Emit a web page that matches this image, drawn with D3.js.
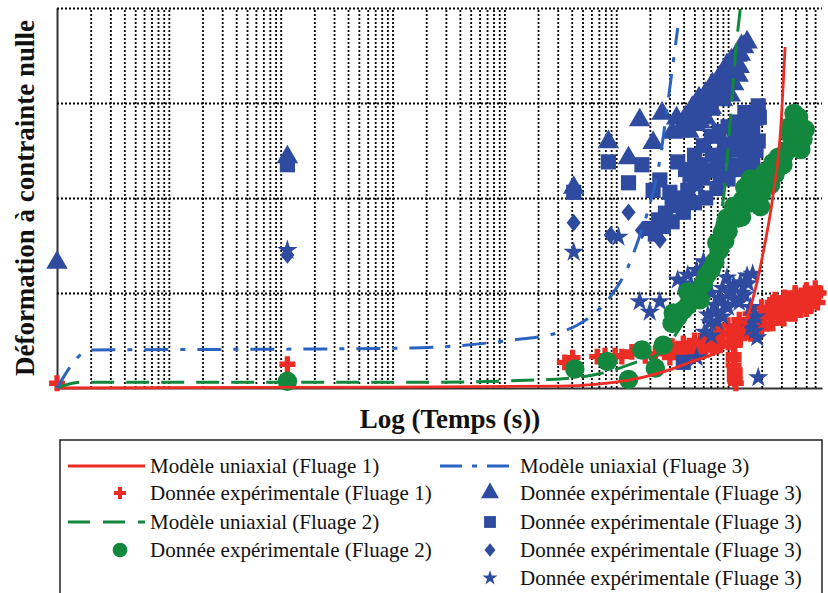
<!DOCTYPE html>
<html lang="fr">
<head>
<meta charset="UTF-8">
<title>Déformation à contrainte nulle</title>
<script src="https://d3js.org/d3.v7.min.js"></script>
<style>
  body { margin: 0; background: #fff; }
  text { font-family: "Liberation Serif", "Times New Roman", serif; fill: #111; }
</style>
</head>
<body>
<script>
// x = log10(temps en s), y = deformation (4 rows of grid)
const modele1 = [[0,0],[3.0,0.01],[4.5,0.02],[5.1,0.08],[5.66,0.27],[5.99,0.45],[6.17,0.74],[6.26,1.12],[6.31,1.40],[6.40,2.01],[6.47,2.72],[6.51,3.59]];
const modele2 = [[0,0],[0.21,0.06],[3.16,0.06],[4.41,0.09],[4.92,0.17],[5.15,0.26],[5.39,0.37],[5.6,0.69],[5.75,1.03],[5.84,1.38],[5.91,1.77],[5.96,2.01],[6.02,2.82],[6.07,3.56],[6.11,4.0]];
const modele3 = [[0,0],[0.30,0.40],[2.17,0.41],[3.16,0.42],[4.11,0.51],[4.41,0.56],[4.65,0.66],[4.84,0.82],[4.96,0.98],[5.10,1.26],[5.21,1.6],[5.28,1.85],[5.39,2.4],[5.47,3.08],[5.55,3.79]];

const fluage1 = [[0,0.05],[2.06,0.25],[4.54,0.27],[4.61,0.32],[4.83,0.33],[4.90,0.34],[4.99,0.34],[5.05,0.33],[5.14,0.38],[5.26,0.34],[5.35,0.36],[5.44,0.38],[5.53,0.40],[5.62,0.42],[5.71,0.44],[5.77,0.48],[5.84,0.51],[5.89,0.53],[5.95,0.56],[6.00,0.58],[6.06,0.61],[6.11,0.63],[6.15,0.65],[6.20,0.68],[6.24,0.72],[6.29,0.74],[6.33,0.76],[6.38,0.79],[6.42,0.81],[6.47,0.83],[6.51,0.85],[6.56,0.87],[6.60,0.89],[6.65,0.92],[6.69,0.94],[6.74,0.96],[6.78,0.97],[6.81,1.0],[6.29,0.63],[6.38,0.68],[6.47,0.74],[6.56,0.78],[6.65,0.82],[6.74,0.86],[6.42,0.93],[6.51,0.95],[6.60,0.98],[6.69,1.0],[6.20,0.58],[6.11,0.53],[6.02,0.48],[5.93,0.45],[5.86,0.42],[5.75,0.38],[5.66,0.35],[5.57,0.33],[5.48,0.32],[6.06,0.45],[6.05,0.35],[6.05,0.24],[6.06,0.14],[6.07,0.05],
  [5.4,0.42],[5.5,0.44],[5.6,0.47],[5.7,0.5],[5.8,0.55],[5.9,0.6],[6.0,0.66],[6.1,0.72],[6.2,0.78],[6.3,0.85],[6.4,0.9],[6.5,0.95],[6.6,1.0],[6.7,1.03],[6.78,1.05],
  [5.6,0.33],[5.7,0.36],[5.8,0.4],[5.9,0.44],[6.0,0.48],[6.1,0.52],[6.2,0.57],[6.3,0.62],[6.4,0.68],[6.5,0.73],[6.6,0.78],[6.7,0.83],[6.8,0.9],[6.05,0.3],[6.06,0.19],[6.06,0.09]];

const fluage2 = [[2.06,0.07],[4.63,0.20],[4.92,0.28],[5.11,0.09],[5.23,0.40],[5.35,0.21],[5.42,0.45],[5.51,0.79],[5.64,0.87],[5.75,0.93],[5.64,1.01],[5.81,1.19],[5.88,1.33],[5.90,1.53],[5.95,1.64],[5.99,1.79],[6.05,1.91],[6.13,1.98],[6.18,2.03],[6.29,1.91],[6.15,2.11],[6.26,2.19],[6.33,2.27],[6.40,2.37],[6.45,2.43],[6.54,2.51],[6.62,2.58],[6.65,2.68],[6.60,2.79],[6.59,2.89],[6.69,2.72],[6.49,2.35],[6.38,2.14],[6.26,2.02],[6.09,1.79],[6.56,2.66],[6.65,2.51],
  [5.55,0.75],[5.6,0.82],[5.7,0.95],[5.78,1.1],[5.85,1.25],[5.92,1.45],[6.0,1.65],[6.08,1.85],[6.2,1.95],[6.3,2.05],[6.35,2.2],[6.42,2.25],[6.5,2.45],[6.58,2.55],[6.62,2.7],[6.67,2.62],[6.55,2.75],[6.63,2.85],[6.2,2.2],[6.12,1.8],[5.97,1.55],[5.5,0.68]];

const fluage3Tri = [[0,1.32],[2.06,2.43],[4.62,2.11],[4.93,2.59],[5.11,2.42],[5.21,2.82],[5.33,2.58],[5.41,2.89],[5.50,2.69],[5.54,2.84],[5.61,2.78],[5.66,2.89],[5.72,2.95],[5.78,3.0],[5.84,3.06],[5.89,3.12],[5.93,3.16],[5.97,3.2],[6.00,3.26],[6.04,3.35],[5.99,3.4],[6.06,3.45],[6.11,3.51],[6.14,3.59],[6.17,3.64],[5.90,3.19],[5.80,2.84],[5.71,2.77],[5.84,2.93],[5.95,3.03],[6.02,3.08],[6.09,3.29],
  [5.56,2.7],[5.62,2.85],[5.68,2.95],[5.74,3.05],[5.8,3.1],[5.86,3.2],[5.92,3.27],[5.98,3.33],[6.03,3.45],[6.08,3.5],[6.12,3.6],[5.65,2.7],[5.75,2.8],[5.85,2.95],[5.95,3.1],[6.05,3.2],[6.1,3.38]];
const fluage3Sq = [[2.06,2.35],[4.62,2.06],[4.93,2.38],[5.11,2.16],[5.23,2.35],[5.33,2.08],[5.39,2.19],[5.48,2.06],[5.55,2.38],[5.30,1.68],[5.38,1.77],[5.44,1.84],[5.50,1.92],[5.57,2.0],[5.64,2.08],[5.71,2.15],[5.77,2.21],[5.84,2.29],[5.91,2.37],[5.97,2.44],[6.05,2.51],[6.11,2.58],[6.18,2.64],[6.22,2.74],[6.25,2.84],[6.27,2.97],[5.75,2.35],[5.86,2.45],[5.97,2.56],[6.06,2.66],[6.15,2.77],[5.66,2.24],[5.93,2.24],[6.06,2.35],[5.60,0.27],
  [5.62,2.3],[5.7,2.45],[5.78,2.55],[5.85,2.65],[5.92,2.7],[6.0,2.75],[6.08,2.8],[6.15,2.9],[6.2,2.6],[6.25,2.5],[6.22,2.35],[6.15,2.45],[6.1,2.3],[6.0,2.2],[5.9,2.1],[5.8,2.0],[5.7,1.95],[5.6,1.85],[5.5,1.75],[5.42,1.7],[5.35,1.62],[6.25,2.15],[6.22,2.3],[6.27,2.6],[6.28,2.85]];
const fluage3Dia = [[2.06,1.40],[4.62,1.74],[4.95,1.61],[5.11,1.85],[5.23,1.66],[5.39,1.56]];
const fluage3Star = [[2.06,1.45],[4.62,1.43],[5.02,1.59],[5.21,0.91],[5.30,0.80],[5.39,0.91],[5.55,1.14],[5.64,1.19],[5.72,1.24],[5.78,1.33],[5.82,0.77],[5.88,0.87],[5.93,0.95],[6.02,1.01],[6.11,1.11],[6.17,1.18],[5.99,1.16],[5.79,0.59],[5.84,0.69],[5.89,0.80],[6.22,0.69],[6.26,0.53],[6.20,0.63],[6.27,0.11],[5.72,0.32],[6.06,0.93],[6.15,0.98],[5.97,0.87],
  [5.6,1.1],[5.68,1.05],[5.75,1.2],[5.85,1.0],[5.95,1.05],[6.05,1.08],[6.12,1.0],[6.18,1.1],[6.22,1.2],[5.9,0.7],[5.95,0.75],[6.0,0.85],[6.1,0.9],[6.2,0.85],[6.25,0.75],[5.85,0.55],[6.24,0.6]];

const legendLabels = ["Modèle uniaxial (Fluage 1)", "Donnée expérimentale (Fluage 1)", "Modèle uniaxial (Fluage 2)", "Donnée expérimentale (Fluage 2)",
  "Modèle uniaxial (Fluage 3)", "Donnée expérimentale (Fluage 3)", "Donnée expérimentale (Fluage 3)", "Donnée expérimentale (Fluage 3)", "Donnée expérimentale (Fluage 3)"];

const RED = "#ec2d26", GREEN = "#13873d", BLUE = "#2f4b9f", BLUELINE = "#2a63c2";

const svg = d3.select("body").append("svg").attr("width", 828).attr("height", 593);

const x = d3.scaleLinear().domain([0, 6.84]).range([57, 822]);
const y = d3.scaleLinear().domain([0, 4]).range([388, 8]);

// log grid
const gridX = [];
for (let n = 0; n < 7; n++) {
  for (let k = 1; k <= 9; k++) {
    const v = n + Math.log10(k);
    if (v > 0 && v <= 6.84) gridX.push(v);
  }
}
svg.append("g")
  .attr("transform", "translate(0,388)")
  .call(d3.axisBottom(x).tickValues(gridX).tickSize(-380).tickFormat("").tickSizeOuter(0))
  .call(g => g.select(".domain").attr("stroke", "#333").attr("stroke-width", 2))
  .selectAll(".tick line")
  .attr("stroke", "#000").attr("stroke-width", 1.8).attr("stroke-dasharray", "2,2");

svg.append("g")
  .attr("transform", "translate(57,0)")
  .call(d3.axisLeft(y).tickValues([1, 2, 3, 4]).tickSize(-765).tickFormat("").tickSizeOuter(0))
  .call(g => g.select(".domain").attr("stroke", "#333").attr("stroke-width", 2))
  .selectAll(".tick line")
  .attr("stroke", "#000").attr("stroke-width", 1.8).attr("stroke-dasharray", "2,2");

// wide diamond like the original marker
const diamondWide = {
  draw(c, s) {
    const r = Math.sqrt(s) / 2;
    c.moveTo(0, -r * 1.25); c.lineTo(r, 0); c.lineTo(0, r * 1.25); c.lineTo(-r, 0); c.closePath();
  }
};

function points(data, type, size, color) {
  svg.append("g").selectAll("path")
    .data(data)
    .enter().append("path")
    .attr("transform", d => `translate(${x(d[0])},${y(d[1])})`)
    .attr("d", d3.symbol().type(type).size(size))
    .attr("fill", color);
}

points(fluage1, d3.symbolCross, 140, RED);
points(fluage3Sq, d3.symbolSquare, 230, BLUE);
points(fluage3Tri, d3.symbolTriangle, 200, BLUE);
points(fluage3Dia, diamondWide, 200, BLUE);
points(fluage3Star, d3.symbolStar, 130, BLUE);
points(fluage2, d3.symbolCircle, 300, GREEN);

const line = d3.line().x(d => x(d[0])).y(d => y(d[1])).curve(d3.curveMonotoneX);

svg.append("path").datum(modele1).attr("d", line)
  .attr("fill", "none").attr("stroke", RED).attr("stroke-width", 2.8);
svg.append("path").datum(modele2).attr("d", line)
  .attr("fill", "none").attr("stroke", GREEN).attr("stroke-width", 3).attr("stroke-dasharray", "23,12");
svg.append("path").datum(modele3).attr("d", line)
  .attr("fill", "none").attr("stroke", BLUELINE).attr("stroke-width", 3).attr("stroke-dasharray", "24,12,5,12");

// axis titles
svg.append("text")
  .attr("x", 450).attr("y", 428)
  .attr("text-anchor", "middle")
  .attr("font-size", 27).attr("font-weight", "bold")
  .text("Log (Temps (s))");

svg.append("text")
  .attr("transform", "translate(34,198) rotate(-90)")
  .attr("text-anchor", "middle")
  .attr("font-size", 27).attr("font-weight", "bold")
  .text("Déformation à contrainte nulle");

// legend
const lg = svg.append("g");
lg.append("rect").attr("x", 60).attr("y", 440).attr("width", 762).attr("height", 170)
  .attr("fill", "none").attr("stroke", "#222").attr("stroke-width", 1.5);

const rowsL = [466, 493, 522, 550];
const rowsR = [466, 493, 522, 550, 578];

lg.append("line").attr("x1", 68).attr("x2", 145).attr("y1", rowsL[0]).attr("y2", rowsL[0])
  .attr("stroke", RED).attr("stroke-width", 2.8);
lg.append("path").attr("transform", `translate(120,${rowsL[1]})`)
  .attr("d", d3.symbol().type(d3.symbolCross).size(80)).attr("fill", RED);
lg.append("line").attr("x1", 68).attr("x2", 145).attr("y1", rowsL[2]).attr("y2", rowsL[2])
  .attr("stroke", GREEN).attr("stroke-width", 3).attr("stroke-dasharray", "22,13");
lg.append("path").attr("transform", `translate(120,${rowsL[3]})`)
  .attr("d", d3.symbol().type(d3.symbolCircle).size(170)).attr("fill", GREEN);

lg.append("line").attr("x1", 440).attr("x2", 518).attr("y1", rowsR[0]).attr("y2", rowsR[0])
  .attr("stroke", BLUELINE).attr("stroke-width", 3).attr("stroke-dasharray", "22,10,5,10");
lg.append("path").attr("transform", `translate(490,${rowsR[1]})`)
  .attr("d", d3.symbol().type(d3.symbolTriangle).size(140)).attr("fill", BLUE);
lg.append("path").attr("transform", `translate(490,${rowsR[2]})`)
  .attr("d", d3.symbol().type(d3.symbolSquare).size(140)).attr("fill", BLUE);
lg.append("path").attr("transform", `translate(490,${rowsR[3]})`)
  .attr("d", d3.symbol().type(diamondWide).size(120)).attr("fill", BLUE);
lg.append("path").attr("transform", `translate(490,${rowsR[4]})`)
  .attr("d", d3.symbol().type(d3.symbolStar).size(70)).attr("fill", BLUE);

lg.selectAll("text.l")
  .data(legendLabels.slice(0, 4))
  .enter().append("text")
  .attr("x", 150).attr("y", (d, i) => rowsL[i] + 7)
  .attr("font-size", 21)
  .text(d => d);
lg.selectAll("text.r")
  .data(legendLabels.slice(4))
  .enter().append("text")
  .attr("x", 520).attr("y", (d, i) => rowsR[i] + 7)
  .attr("font-size", 21)
  .text(d => d);
</script>
</body>
</html>
